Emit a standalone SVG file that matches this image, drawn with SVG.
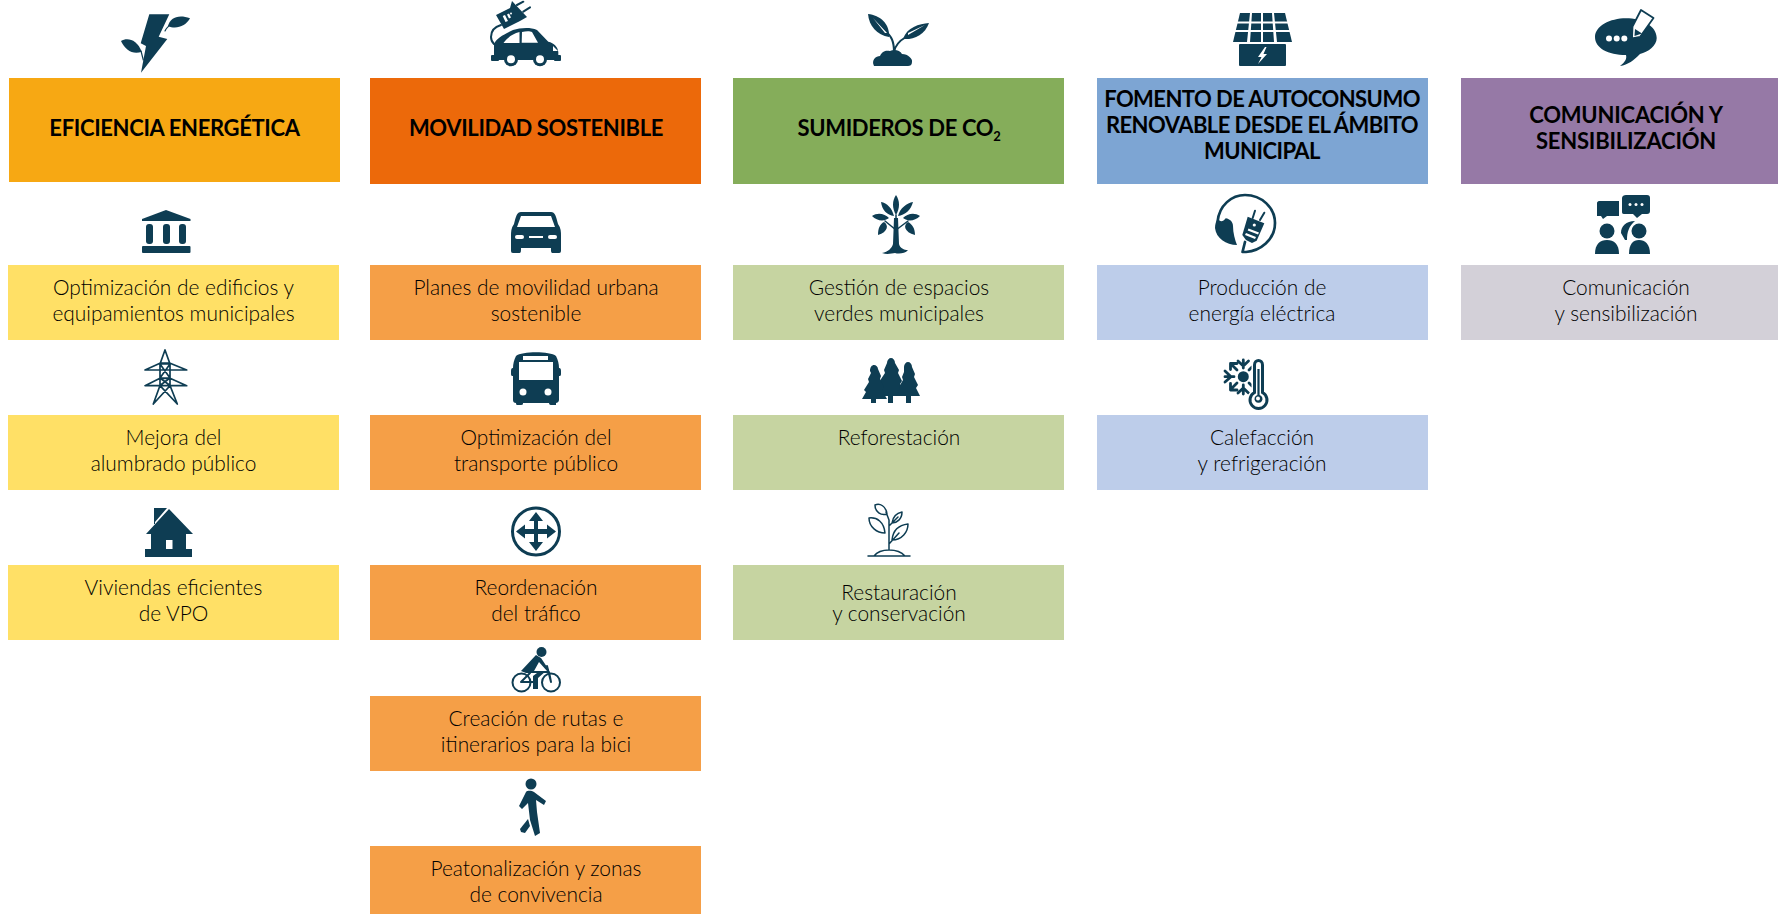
<svg xmlns="http://www.w3.org/2000/svg" width="1778" height="914" viewBox="0 0 1778 914">
<style>
text{font-family:Lato,"Carlito","Liberation Sans",sans-serif;text-anchor:middle}
.h{font-size:22px;font-weight:700;fill:#000;letter-spacing:-.35px}
.t{font-size:20.900px;font-weight:300;fill:#000}
.i{fill:#0e3d53;stroke:none}
.l{fill:none;stroke:#0e3d53;stroke-width:2;stroke-linejoin:round;stroke-linecap:round}
.w{fill:#fff;stroke:none}
</style>
<rect width="1778" height="914" fill="#fff"/>

<g id="h1"><rect x="9" y="78" width="331" height="104" fill="#f7a813"/><text class="h" x="174.500" y="136">EFICIENCIA ENERGÉTICA</text>
<g class="i"><path d="M149.300 14.300H169.300L158.700 36.700 167.300 39 141 72.700 146 46 140.700 43.300Z"/><path d="M168 26C170 18 178 14 190 18.300 186 26 176 30 168 26Z"/><path d="M121 41C127 37 137 39 141.700 51.700 133 55 125 50 121 41Z"/><path class="l" style="stroke-width:1.200" d="M165 31C166 28 168 27 170 25M141 51L143.300 60"/></g></g>

<g id="h2"><rect x="370" y="78" width="331" height="106" fill="#ec690a"/><text class="h" x="536" y="136">MOVILIDAD SOSTENIBLE</text>
<g class="i"><path d="M494 55V44C497 38 503 35 513 30 520 28 530 27 537 30L548.300 41.700C554 43 558 47 558.300 52V60H494Z"/><rect x="491" y="55" width="8" height="6" rx="1"/><rect x="554" y="55" width="7" height="6" rx="1"/><circle cx="511" cy="59.300" r="7"/><circle cx="540" cy="59.300" r="7"/><circle class="w" cx="511" cy="59.300" r="4"/><circle class="w" cx="540" cy="59.300" r="4"/><path class="w" d="M503.500 43C507 38 512 34 519.500 32V43ZM522 32C526 31 530 31 532 32L538 42.700H521.700ZM553 46L558 51 553 51Z"/>
<path d="M496 15L510 8 512 1 527 17 520 21 504 29Z"/><path class="l" d="M501 25C494 27 491 32 491 37 491 40 492 42 494 44M517 5L523.300 1.700M523.300 11.700L530 7.300"/><path class="w" d="M502.700 16L505 15 508 21 505.500 22ZM507 14.500L509 13.500 511 17.500 509 18.500Z"/><circle class="w" cx="511" cy="13.500" r="1"/></g></g>

<g id="h3"><rect x="733" y="78" width="331" height="106" fill="#85ad5a"/><text class="h" x="899" y="136">SUMIDEROS DE CO<tspan font-size="13" dy="5">2</tspan></text>
<g class="i"><path d="M868 14C880 15 890 24 889 37 877 35 869 26 868 14Z"/><path d="M929 23C919 24 907 27 903 39 913 40 925 35 929 23Z"/><path class="l" style="stroke-width:2" d="M884 30C892 36 894 42 894 52M906 37C899 41 895 46 894 52"/><path d="M874 66C871 60 876 56 880 56 882 51 886 50 890 51 894 49 900 50 902 54 908 54 913 59 912 62 912 65 910 66 908 66Z"/><path class="w" d="M873 18L887 33 885 33ZM925 25L908 35 908 33Z"/></g></g>

<g id="h4"><rect x="1097" y="78" width="331" height="106" fill="#7da5d3"/><text class="h" style="letter-spacing:-.55px"><tspan x="1262" y="107">FOMENTO DE AUTOCONSUMO</tspan><tspan x="1262" y="133">RENOVABLE DESDE EL ÁMBITO</tspan><tspan x="1262" y="159">MUNICIPAL</tspan></text>
<g class="i"><path d="M1240 13H1285L1292 42H1233Z"/><rect x="1239" y="44" width="47" height="22" rx="1"/><path class="w" d="M1233 21.500H1292V23.500H1233ZM1233 30H1292V32H1233ZM1250 13H1252L1250 42H1247ZM1261 13H1263V42H1261ZM1272 13H1274L1277 42H1274Z"/><path class="w" d="M1265 47L1258 57H1261.500L1258 64 1267 54H1263.500L1266.500 47Z"/></g></g>

<g id="h5"><rect x="1461" y="78" width="317" height="106" fill="#9679a6"/><text class="h" style="letter-spacing:-.2px"><tspan x="1626" y="123">COMUNICACIÓN Y</tspan><tspan x="1626" y="149">SENSIBILIZACIÓN</tspan></text>
<g class="i"><path d="M1626 18.300C1642 18.300 1656.700 26 1656.700 38 1656.700 46 1648 52 1640 54 1634 60 1628 65 1620 66 1625 62 1627 59 1626 55 1608 55 1595 48 1595 37 1595 26 1610 18.300 1626 18.300Z"/><path d="M1641 10L1653.500 18 1640 37 1632 38.500 1632.500 26.500Z" fill="#fff" stroke="#0e3d53" stroke-width="1.800" stroke-linejoin="round"/><path d="M1635 29L1642 33.500 1634.500 36Z"/><circle class="w" cx="1609" cy="38.500" r="3"/><circle class="w" cx="1616.700" cy="38.500" r="3"/><circle class="w" cx="1624.300" cy="38.500" r="3"/></g></g>

<g id="n11"><rect x="8" y="265" width="331" height="75" fill="#ffe066"/><text class="t"><tspan x="173.500" y="295">Optimización de edificios y</tspan><tspan x="173.500" y="321">equipamientos municipales</tspan></text>
<g class="i"><path d="M166 210L190.500 219V221H142V219Z"/><rect x="146" y="224" width="7" height="20" rx="3"/><rect x="163" y="224" width="7" height="20" rx="3"/><rect x="179" y="224" width="7" height="20" rx="3"/><rect x="142" y="246" width="48.500" height="7" rx="1"/></g></g>

<g id="n12"><rect x="8" y="415" width="331" height="75" fill="#ffe066"/><text class="t"><tspan x="173.500" y="445">Mejora del</tspan><tspan x="173.500" y="470.500">alumbrado público</tspan></text>
<path class="l" style="stroke-width:1.700" d="M165 350L160 364V385.500L153.300 404M165 350L170 364V385.500L177.300 404M145 370H186.700L169.500 363H160.500ZM145 385.700H186.700L170 378.300H160ZM160 364H170M160 378H170M160 364L170 378M170 364L160 378M160 378L170 385.500M170 378L160 385.500M160 385.700L177.300 404M170 385.700L153.300 404"/></g>

<g id="n13"><rect x="8" y="565" width="331" height="75" fill="#ffe066"/><text class="t"><tspan x="173.500" y="594.500">Viviendas eficientes</tspan><tspan x="173.500" y="620.500">de VPO</tspan></text>
<g class="i"><path d="M169 509L193 534H186V550H151V534H146ZM154 508H167L155 522V524L154 524Z"/><rect x="145" y="549" width="47" height="8"/><rect class="w" x="166" y="540" width="6.500" height="9"/></g></g>

<g id="n21"><rect x="370" y="265" width="331" height="75" fill="#f59f47"/><text class="t"><tspan x="536" y="295">Planes de movilidad urbana</tspan><tspan x="536" y="321">sostenible</tspan></text>
<g class="i"><path d="M521 212H551C555 212 556 216 558 224 561 228 561 232 561 236V250C561 253 560 253 558 253H553C551 253 551 252 551 248H521C521 252 521 253 519 253H514C512 253 511 253 511 250V236C511 232 511 228 514 224 516 216 517 212 521 212Z"/><path class="w" d="M521 216H551L555 227H517Z"/><rect class="w" x="515" y="235" width="9" height="4" rx="2"/><rect class="w" x="548" y="235" width="9" height="4" rx="2"/><rect class="w" x="529" y="236" width="14" height="2"/></g></g>

<g id="n22"><rect x="370" y="415" width="331" height="75" fill="#f59f47"/><text class="t"><tspan x="536" y="445">Optimización del</tspan><tspan x="536" y="470.500">transporte público</tspan></text>
<g class="i"><path d="M516 356C522 351 550 351 556 356 558 360 559 364 559 368 561 368 561 370 561 372V374C561 376 560 376 559 376V400C559 402 557 403 556 403V405H551C549 405 549 403 549 403H523C523 404 523 405 521 405H517C516 405 516 403 516 403 514 403 513 402 513 400V376C512 376 511 376 511 374V372C511 370 511 368 513 368 513 364 514 360 516 356Z"/><rect class="w" x="519" y="362" width="34" height="18"/><rect class="w" x="523" y="356" width="25" height="4"/><circle class="w" cx="523" cy="392" r="3.500"/><circle class="w" cx="548" cy="392" r="3.500"/></g></g>

<g id="n23"><rect x="370" y="565" width="331" height="75" fill="#f59f47"/><text class="t"><tspan x="536" y="594.500">Reordenación</tspan><tspan x="536" y="620.500">del tráfico</tspan></text>
<g><circle cx="536" cy="531.500" r="23.500" fill="none" stroke="#0e3d53" stroke-width="3"/><path class="i" d="M536 512L543 521H538V529H547V524.500L556 531.500 547 538.500V534H538V542H543L536 551 529 542H534V534H525V538.500L516 531.500 525 524.500V529H534V521H529Z"/></g></g>

<g id="n24"><rect x="370" y="696" width="331" height="75" fill="#f59f47"/><text class="t"><tspan x="536" y="725.500">Creación de rutas e</tspan><tspan x="536" y="751.500">itinerarios para la bici</tspan></text>
<g><circle cx="521.500" cy="682.500" r="9" fill="none" stroke="#0e3d53" stroke-width="2"/><circle cx="551" cy="682.500" r="9" fill="none" stroke="#0e3d53" stroke-width="2"/><circle class="i" cx="541.500" cy="652" r="5"/><path class="i" d="M536 655L541 658 549 670 547 671 539 662 534 671H546L538 678V689H533V676L537 673H526L521 671Z"/><path class="l" d="M521 682L530 673M534 672H549L551 682M521 682H536M547 666L551 682"/></g></g>

<g id="n25"><rect x="370" y="846" width="331" height="68" fill="#f59f47"/><text class="t"><tspan x="536" y="875.500">Peatonalización y zonas</tspan><tspan x="536" y="901.500">de convivencia</tspan></text>
<g class="i"><circle cx="531" cy="784" r="5.500"/><path d="M526 792C528 790 532 791 534 792L546 801 544 805 536 800 537 812 540 833 535 836 530 820 528 803 522 809 519 806Z"/><path d="M528 819L530 826 525 833 521 832 520 829Z"/></g></g>

<g id="n31"><rect x="733" y="265" width="331" height="75" fill="#c6d4a1"/><text class="t"><tspan x="899" y="295">Gestión de espacios</tspan><tspan x="899" y="321">verdes municipales</tspan></text>
<g class="i"><path d="M896 195C900 201 900 208 896 215 892 208 892 201 896 195ZM881 202C887 203 892 208 894 216 887 215 882 210 881 202ZM913 202C907 203 900 208 898 216 905 215 911 210 913 202ZM872 216C878 212 885 214 889 218 884 222 877 221 872 216ZM920 216C914 212 907 214 903 218 908 222 915 221 920 216ZM884 222C889 225 888 232 878 235 878 228 880 224 884 222ZM908 222C903 225 904 232 915 235 915 228 912 224 908 222Z"/><path d="M894 218H898L899 244C900 248 904 250 908 250 905 254 898 254 895 253 892 253 888 255 882 253 888 252 892 248 893 244Z"/><path class="l" style="stroke-width:1.500" d="M896 215V225M885 221L896 230M908 221L896 230"/></g></g>

<g id="n32"><rect x="733" y="415" width="331" height="75" fill="#c6d4a1"/><text class="t" x="899" y="445">Reforestación</text>
<g class="i"><path d="M891 358C893 358 895 360 895 363L899 370 898 373 902 381 900 384 904 391H903L899 396H893V403H888V396H875L878 392 881 384 879 382 885 373 884 370 887 363C887 360 889 358 891 358Z"/><path d="M874 365C876 365 878 367 878 369L881 376 880 379 884 387 882 390 887 399H876V403H871V399H862L866 392 864 390 869 382 868 379 871 373 870 371C870 367 872 365 874 365Z"/><path d="M908 362C910 362 912 364 912 367L915 374 914 377 918 385 916 388 920 396H911V403H906V396H896L900 389 899 387 903 380 902 377 904 372 904 367C904 364 906 362 908 362Z"/></g></g>

<g id="n33"><rect x="733" y="565" width="331" height="75" fill="#c6d4a1"/><text class="t"><tspan x="899" y="599.500">Restauración</tspan><tspan x="899" y="620.500">y conservación</tspan></text>
<g><path class="l" style="stroke-width:1.500" d="M889 550V520L886 512M889 526L898 517M889 544L899 533M868 556H910M874 556C880 548 898 548 905 556M875 505C880 503 886 506 887 514 881 516 875 512 875 505ZM902 512C897 513 893 516 892 523 897 523 902 519 902 512ZM869 518C877 517 884 522 885 533 877 533 869 527 869 518ZM908 524C899 525 893 530 892 540 902 540 908 532 908 524Z"/></g></g>

<g id="n41"><rect x="1097" y="265" width="331" height="75" fill="#bdcdea"/><text class="t"><tspan x="1262" y="295">Producción de</tspan><tspan x="1262" y="321">energía eléctrica</tspan></text>
<g><path class="l" style="stroke-width:2.700" d="M1217.500 222C1219 205 1232 195 1245 195 1262 195 1275 208 1275 223 1275 240 1260 251 1246 252 1244 252 1243 252 1242.500 252L1245 242"/><path class="i" d="M1225.700 218.300C1230 219 1233 222 1233 226 1233 233 1235 240 1237 245 1226 245 1216 238 1215 228 1215 224 1216 221 1218 219 1220 222 1223 222 1225.700 218.300Z"/><path class="i" d="M1247.700 216.700L1264.300 223.300 1256.700 240.700 1252 243 1246 240 1242.300 235Z"/><path class="l" d="M1252.700 218L1255 210.700M1260 220L1264.300 212.700"/><circle class="w" cx="1254.300" cy="225" r="1.600"/><path class="w" d="M1248.500 228.500L1259 232.500 1258 234.500 1247.700 230.500ZM1246 233L1256 237 1255 239 1245 235Z"/></g></g>

<g id="n42"><rect x="1097" y="415" width="331" height="75" fill="#bdcdea"/><text class="t"><tspan x="1262" y="445">Calefacción</tspan><tspan x="1262" y="470.500">y refrigeración</tspan></text>
<g><circle class="i" cx="1243.300" cy="376.700" r="5.500"/><path class="l" style="stroke-width:2.800" d="M1243.300 368V360M1238 361L1243.300 366 1248.500 361M1234 376.700H1225M1225 371L1231 376.700 1225 382M1243.300 385V394M1238 393L1243.300 388 1248.500 393M1237 370L1231 364M1230.500 369.500V363.500H1237M1237 383L1231 389M1230.500 383.500V390H1237M1249 370L1252 367M1249 383L1252 386"/><path d="M1253 392V364C1253 355 1264 355 1264 364V392A10.500 10.500 0 1 1 1253 392Z" fill="#fff" stroke="#fff" stroke-width="3"/><path d="M1254.500 392.500V365C1254.500 359 1262.500 359 1262.500 365V392.500A8.500 8.500 0 1 1 1254.500 392.500Z" fill="#fff" stroke="#0e3d53" stroke-width="3"/><path class="i" d="M1257.400 369H1259.600V395A4 4 0 1 1 1257.400 395Z"/><circle class="w" cx="1258" cy="398.500" r="2"/></g></g>

<g id="n51"><rect x="1461" y="265" width="317" height="75" fill="#d3d0d8"/><text class="t"><tspan x="1626" y="295">Comunicación</tspan><tspan x="1626" y="321">y sensibilización</tspan></text>
<g class="i"><path d="M1599 201H1619V216H1607L1603 219 1601 216H1597V203C1597 202 1598 201 1599 201Z"/><path d="M1626 195H1647C1649 195 1650 196 1650 198V211C1650 213 1649 214 1647 214H1642L1637 218 1633 214H1624C1622 214 1622 213 1622 211V198C1622 196 1624 195 1626 195Z"/><circle class="w" cx="1630" cy="204.500" r="1.500"/><circle class="w" cx="1636" cy="204.500" r="1.500"/><circle class="w" cx="1642" cy="204.500" r="1.500"/><circle cx="1607" cy="231" r="7.500"/><circle cx="1639" cy="231" r="7.500"/><path d="M1595 254C1595 244 1600 240 1607 240 1614 240 1619 244 1619 254Z"/><path d="M1629 254C1629 244 1633 240 1639 240 1645 240 1650 244 1650 254Z"/><path d="M1621 233C1621 226 1626 221 1635 221 1629 226 1627 232 1627 240L1625 240Z"/></g></g>
</svg>
